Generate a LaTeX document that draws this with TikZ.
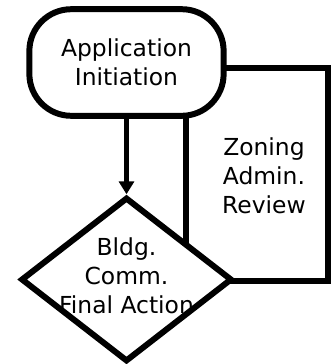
\documentclass[tikz,border=0pt]{standalone}
\usepackage{fontspec}
\setmainfont{DejaVu Sans}
\usetikzlibrary{shapes.geometric,arrows.meta}
\tikzset{start/.style = {draw, fill=white, line width=6pt, rectangle, rounded corners=42pt, minimum width=195pt, minimum height=107pt},
         review/.style = {draw, line width=6pt, rectangle, minimum width=142pt, minimum height=213pt},
         decision/.style = {draw, fill=white, line width=6pt, diamond, inner sep=0pt, minimum width=212pt, minimum height=165pt},
         txt/.style = {font=\fontsize{23.5}{29}\selectfont, align=center}}

\begin{document}
\begin{tikzpicture}[x=1bp, y=-1bp]
    \useasboundingbox (0,0) rectangle (334,364);
    \node[review, label={[txt, xshift=7pt, yshift=-1pt]center:Zoning\\Admin.\\Review}](zar)at(257,174.5){};
    \node[start, txt](app)at(126.5,62.5){Application\\Initiation};
    \node[decision, label={[txt, yshift=4pt]center:Bldg.\\Comm.\\Final Action}](bldg)at(126.5,279.5){};
    \draw[line width=6pt, -{Triangle[length=13pt, width=15pt]}](app.south)--(bldg.north);
\end{tikzpicture}
\end{document}
